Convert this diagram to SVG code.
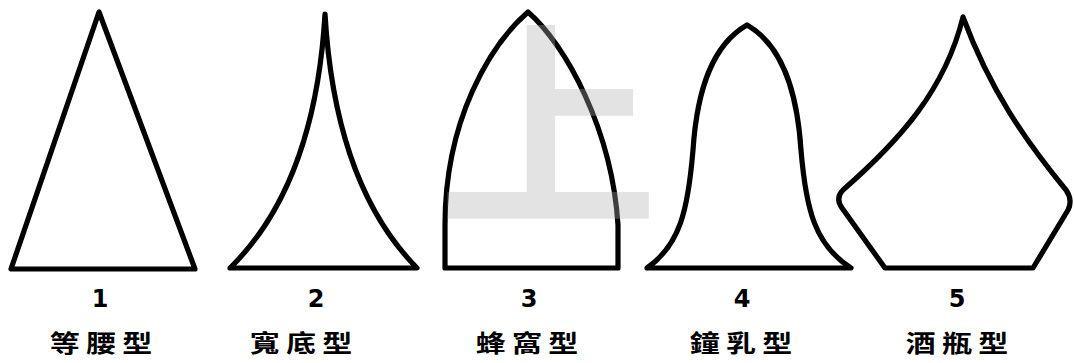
<svg xmlns="http://www.w3.org/2000/svg" width="1074" height="363" viewBox="0 0 1074 363">
<style>
.shape{fill:none;stroke:#000;stroke-width:5.2;stroke-linejoin:round;stroke-linecap:round}
.num{font-family:"DejaVu Sans","Liberation Sans",sans-serif;font-weight:700;font-size:24px;text-anchor:middle;fill:#000}
.lbl{font-family:"Noto Sans CJK TC","Noto Sans CJK SC",sans-serif;font-weight:700;font-size:24px;letter-spacing:5px;text-anchor:middle;fill:#000}
.wm{font-family:"Noto Sans CJK SC","Noto Sans CJK TC",sans-serif;font-weight:700;font-size:220px;text-anchor:middle;fill:#b0b0b0;fill-opacity:0.35}
</style>
<rect width="1074" height="363" fill="#fff"/>
<g id="connectors"></g>
<g id="shape1">
<path class="shape" d="M99,12 L11,269 L195,269 Z"/>
<text class="num" x="100" y="307">1</text>
<text class="lbl" transform="translate(104,352) scale(1.25,1)">等腰型</text>
</g>
<g id="shape2">
<path class="shape" d="M230,268 Q315,185 325,14 Q335,185 417,268 Z"/>
<text class="num" x="316" y="307">2</text>
<text class="lbl" transform="translate(304,352) scale(1.25,1)">寬底型</text>
</g>
<g id="shape3">
<path class="shape" d="M445,268 L445,225 C445,120 490,45 528,12 C566,45 612,130 618,225 L618,268 Z"/>
<text class="num" x="529" y="307">3</text>
<text class="lbl" transform="translate(530,352) scale(1.25,1)">蜂窩型</text>
</g>
<g id="shape4">
<path class="shape" d="M647,268 C680,245 688,210 693,150 C697,90 712,45 747,25 C782,45 797,90 801,150 C806,210 815,245 851,268 Z"/>
<text class="num" x="742" y="307">4</text>
<text class="lbl" transform="translate(744,352) scale(1.25,1)">鐘乳型</text>
</g>
<g id="shape5">
<path class="shape" d="M963,17 C945,90 900,140 843,190 Q835,198 842,208 L885,268 L1033,268 L1068,210 Q1073,200 1066,190 C1025,140 990,90 963,17 Z"/>
<text class="num" x="957" y="307">5</text>
<text class="lbl" transform="translate(960,352) scale(1.25,1)">酒瓶型</text>
</g>
<text class="wm" x="548" y="210">上</text>
</svg>
